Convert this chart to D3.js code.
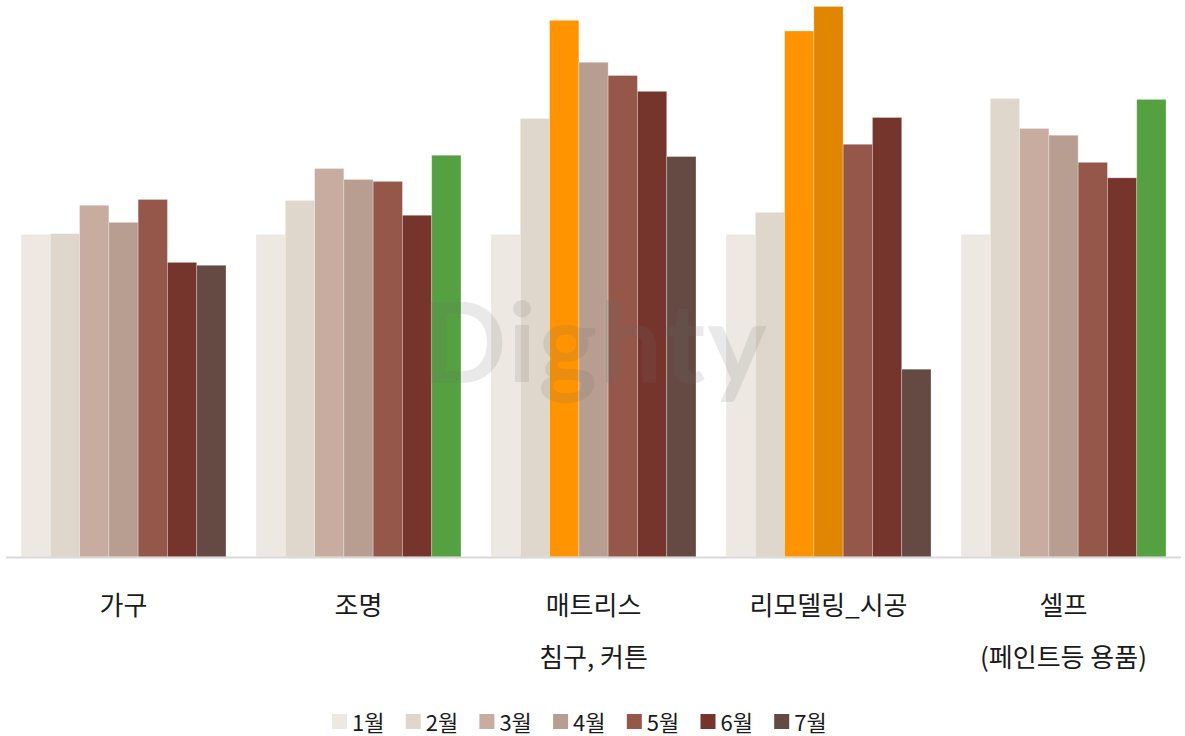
<!DOCTYPE html>
<html>
<head>
<meta charset="utf-8">
<script src="https://cdn.jsdelivr.net/npm/d3@7"></script>
<style>
  html, body { margin: 0; padding: 0; background: #fff; }
  svg { display: block; font-family: "Noto Sans CJK KR", "Noto Sans", sans-serif; }
</style>
</head>
<body>
<svg width="1185" height="736"></svg>
<script>
// categories (x label lines)
const categories = [
  ["가구"],
  ["조명"],
  ["매트리스", "침구, 커튼"],
  ["리모델링_시공"],
  ["셀프", "(페인트등 용품)"]
];
const months = ["1월", "2월", "3월", "4월", "5월", "6월", "7월"];

// index, 1월 = 100
const m1 = [100, 100, 100, 100, 100];
const m2 = [100.2, 110.5, 135.9, 106.8, 142.1];
const m3 = [109.0, 120.4, 166.3, 163.0, 132.8];
const m4 = [103.7, 117.0, 153.3, 170.6, 130.7];
const m5 = [110.8, 116.4, 149.2, 127.9, 122.3];
const m6 = [91.3, 105.9, 144.3, 136.2, 117.5];
const m7 = [90.4, 124.5, 124.1, 58.2, 141.8];
const series = [m1, m2, m3, m4, m5, m6, m7];

const colors = ["#ede9e2", "#dfd7cb", "#c8aca0", "#b89e90", "#94574a", "#76352c", "#644a43"];
// highlighted bars: [category, month] -> colour
const highlights = [
  [2, 2, "#ff9400"],
  [3, 2, "#ff9400"],
  [3, 3, "#e08600"],
  [1, 6, "#55a040"],
  [4, 6, "#55a040"]
];

const svg = d3.select("svg");
const base = 557;

const x0 = d3.scaleBand().domain(d3.range(categories.length)).range([6, 1181]).paddingInner(0.1277).paddingOuter(0.0638);
const x1 = d3.scaleBand().domain(d3.range(months.length)).range([0, x0.bandwidth()]);
const y = d3.scaleLinear().domain([0, 100]).range([base, 234.3]);

const rows = [];
categories.forEach((c, ci) => {
  series.forEach((s, mi) => {
    let col = colors[mi];
    highlights.forEach(h => { if (h[0] === ci && h[1] === mi) col = h[2]; });
    rows.push({ ci, mi, v: s[ci], col });
  });
});

svg.append("g").selectAll("rect")
  .data(rows)
  .join("rect")
  .attr("x", d => x0(d.ci) + x1(d.mi))
  .attr("y", d => y(d.v))
  .attr("width", x1.bandwidth())
  .attr("height", d => base - y(d.v))
  .attr("fill", d => d.col)
  .attr("stroke", "rgba(255,255,255,0.35)")
  .attr("stroke-width", 0.8);

// baseline
svg.append("line")
  .attr("x1", 6).attr("x2", 1181)
  .attr("y1", base + 0.5).attr("y2", base + 0.5)
  .attr("stroke", "#d9d9d9").attr("stroke-width", 2);

// category labels
const lab = svg.append("g").selectAll("text")
  .data(categories)
  .join("text")
  .attr("text-anchor", "middle")
  .attr("font-size", 26)
  .attr("fill", "#1a1a1a");
lab.each(function (lines, i) {
  const t = d3.select(this);
  lines.forEach((ln, k) => {
    t.append("tspan")
      .attr("x", x0(i) + x0.bandwidth() / 2)
      .attr("y", 615 + k * 52)
      .text(ln);
  });
});

// legend
const leg = svg.append("g").selectAll("g")
  .data(months)
  .join("g")
  .attr("transform", (d, i) => `translate(${332 + i * 73.7},0)`);
leg.append("rect")
  .attr("x", 0).attr("y", 714)
  .attr("width", 15).attr("height", 15)
  .attr("fill", (d, i) => colors[i]);
leg.append("text")
  .attr("x", 20).attr("y", 731)
  .attr("font-size", 22)
  .attr("fill", "#1a1a1a")
  .text(d => d);

// watermark
svg.append("text")
  .attr("x", 595).attr("y", 383)
  .attr("text-anchor", "middle")
  .attr("font-family", "Lato, 'Noto Sans', sans-serif")
  .attr("font-weight", 700)
  .attr("font-size", 112)
  .attr("letter-spacing", 2)
  .attr("fill", "rgba(110,110,110,0.15)")
  .text("Dighty");
</script>
</body>
</html>
